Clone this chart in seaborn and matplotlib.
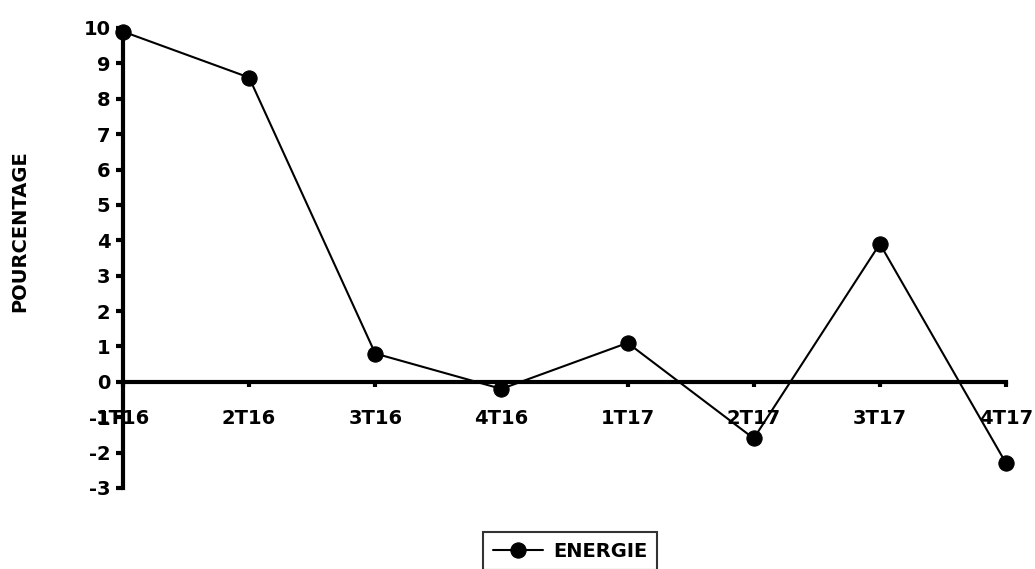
import pandas as pd
import matplotlib
matplotlib.use("Agg")
import matplotlib.pyplot as plt
import seaborn as sns

# --- Data ---
quarters = ["1T16", "2T16", "3T16", "4T16", "1T17", "2T17", "3T17", "4T17"]
energie = [9.9, 8.6, 0.8, -0.2, 1.1, -1.6, 3.9, -2.3]

df = pd.DataFrame({"pos": range(len(quarters)), "ENERGIE": energie})

sns.set_style("white")
plt.rcParams["font.family"] = ["DejaVu Sans"]
plt.rcParams["font.weight"] = "bold"
plt.rcParams["axes.unicode_minus"] = False
plt.rcParams["text.color"] = "black"

fig = plt.figure(figsize=(10.35, 5.69), dpi=100)
ax = fig.add_axes([0.1188, 0.1424, 0.972 - 0.1188, 0.9508 - 0.1424])

sns.lineplot(data=df, x="pos", y="ENERGIE", ax=ax, color="black", linewidth=1.5,
             marker="o", markersize=11, markeredgecolor="black", label="ENERGIE",
             clip_on=False, zorder=5)

ax.set_xlim(0, len(quarters) - 1)
ax.set_ylim(-3, 10)
ax.set_yticks(range(-3, 11))
ax.set_xticks(range(len(quarters)))
ax.set_xticklabels(quarters)

for s in ["top", "right"]:
    ax.spines[s].set_visible(False)
ax.spines["bottom"].set_position(("data", 0))
for s in ["left", "bottom"]:
    ax.spines[s].set_linewidth(3)
    ax.spines[s].set_color("black")
ax.tick_params(axis="both", direction="out", width=3, color="black",
               labelsize=14, labelcolor="black", bottom=True, left=True)
ax.tick_params(axis="y", length=5, pad=4)
ax.tick_params(axis="x", length=3.5, pad=16)
ax.set_xlabel("")
ax.set_ylabel("")
for lab in ax.get_xticklabels() + ax.get_yticklabels():
    lab.set_fontweight("bold")

fig.text(20 / 1035, 1 - 231 / 569, "POURCENTAGE", rotation=90, ha="center", va="center",
         fontsize=14, fontweight="bold", color="black")

leg = ax.legend(loc="upper center", bbox_to_anchor=(570 / 1035, 1 - 532 / 569),
                bbox_transform=fig.transFigure, frameon=True, borderaxespad=0,
                fancybox=False, fontsize=14, handlelength=2.6, borderpad=0.5,
                handletextpad=0.5)
leg.get_frame().set_edgecolor("black")
leg.get_frame().set_linewidth(1.5)
for t in leg.get_texts():
    t.set_fontweight("bold")
    t.set_color("black")

fig.savefig("out.png", dpi=100, facecolor="white")
